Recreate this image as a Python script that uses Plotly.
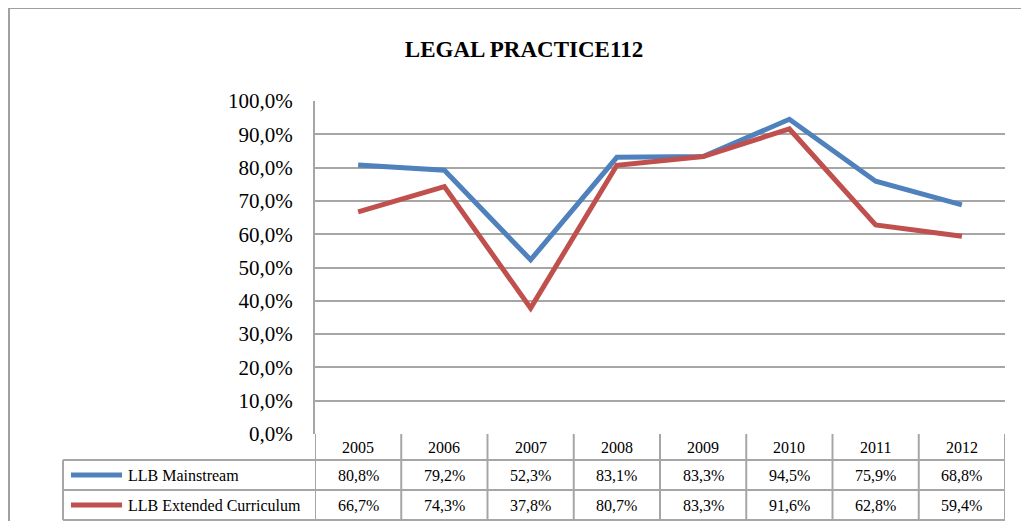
import plotly.graph_objects as go

# chart data
years = ["2005", "2006", "2007", "2008", "2009", "2010", "2011", "2012"]
mainstream = [0.808, 0.792, 0.523, 0.831, 0.833, 0.945, 0.759, 0.688]
extended = [0.667, 0.743, 0.378, 0.807, 0.833, 0.916, 0.628, 0.594]
series_names = ["LLB Mainstream", "LLB Extended Curriculum"]
series_colors = ["#4F81BD", "#C0504D"]

# page is 1029x529, body has an 8px margin -> figure 1013x513
OFF = 8
W, H = 1013, 513
FONT = "Liberation Serif"
GRID = "#a6a6a6"


def px_x(x):
    # page pixel -> paper fraction
    return (x - OFF) / W


def px_y(y):
    return 1 - (y - OFF) / H


def pct(v):
    return f"{v * 100:.1f}%".replace(".", ",")


fig = go.Figure()
for name, vals, col in zip(series_names, [mainstream, extended], series_colors):
    fig.add_trace(go.Scatter(x=years, y=vals, mode="lines", name=name,
                             line=dict(color=col, width=5), showlegend=False))

# plot area / table geometry (page pixels)
left, right = 315, 1005
top, bottom = 101, 434
row_lines = [460, 490, 520]
label_left = 63

shapes = []
# outer chart border
shapes.append(dict(type="path", xref="paper", yref="paper",
                   path=f"M {px_x(9)},0 L {px_x(9)},{px_y(8)} L 1,{px_y(8)}",
                   line=dict(color="#a0a0a0", width=2)))
# table horizontal lines
for r in row_lines:
    shapes.append(dict(type="line", xref="paper", yref="paper",
                       x0=px_x(label_left), x1=px_x(right), y0=px_y(r), y1=px_y(r),
                       line=dict(color=GRID, width=2)))
# table vertical lines
shapes.append(dict(type="line", xref="paper", yref="paper",
                   x0=px_x(label_left), x1=px_x(label_left),
                   y0=px_y(row_lines[0]), y1=px_y(row_lines[-1]),
                   line=dict(color=GRID, width=2)))
for i in range(len(years) + 1):
    shapes.append(dict(type="line", xref="x", yref="paper",
                       x0=i - 0.5, x1=i - 0.5, y0=px_y(bottom), y1=px_y(row_lines[-1]),
                       line=dict(color=GRID, width=2)))
# legend keys inside the table
for r, col in zip([475, 505], series_colors):
    shapes.append(dict(type="line", xref="paper", yref="paper",
                       x0=px_x(71), x1=px_x(122), y0=px_y(r), y1=px_y(r),
                       line=dict(color=col, width=5)))

annotations = []
cell_font = dict(family=FONT, size=16, color="#000")
for i, yr in enumerate(years):
    annotations.append(dict(x=i, y=px_y(447), xref="x", yref="paper", text=yr,
                            yanchor="middle", showarrow=False, font=cell_font))
for r, vals, name in zip([475, 505], [mainstream, extended], series_names):
    annotations.append(dict(x=px_x(126), y=px_y(r), xref="paper", yref="paper",
                            text=name, xanchor="left", yanchor="middle",
                            showarrow=False, font=cell_font))
    for i, v in enumerate(vals):
        annotations.append(dict(x=i, y=px_y(r), xref="x", yref="paper", text=pct(v),
                                yanchor="middle", showarrow=False, font=cell_font))

fig.update_layout(
    width=W, height=H,
    margin=dict(l=0, r=0, t=0, b=0),
    paper_bgcolor="white", plot_bgcolor="white",
    separators=", ",
    title=dict(text="<b>LEGAL PRACTICE112</b>", x=px_x(524), y=px_y(49),
               xanchor="center", yanchor="middle",
               font=dict(family=FONT, size=23, color="#000")),
    xaxis=dict(type="category", range=[-0.5, len(years) - 0.5],
               domain=[px_x(left), px_x(right)], showticklabels=False,
               showgrid=False, zeroline=False, showline=False),
    yaxis=dict(range=[0, 1], dtick=0.1, tickformat=".1%",
               domain=[px_y(bottom), px_y(top)],
               showgrid=True, gridcolor=GRID, gridwidth=2,
               zeroline=False, showline=True, linecolor=GRID, linewidth=2,
               ticklabelstandoff=16, automargin=False,
               tickfont=dict(family=FONT, size=21, color="#000")),
    shapes=shapes,
    annotations=annotations,
)

fig.write_html("out.html")
